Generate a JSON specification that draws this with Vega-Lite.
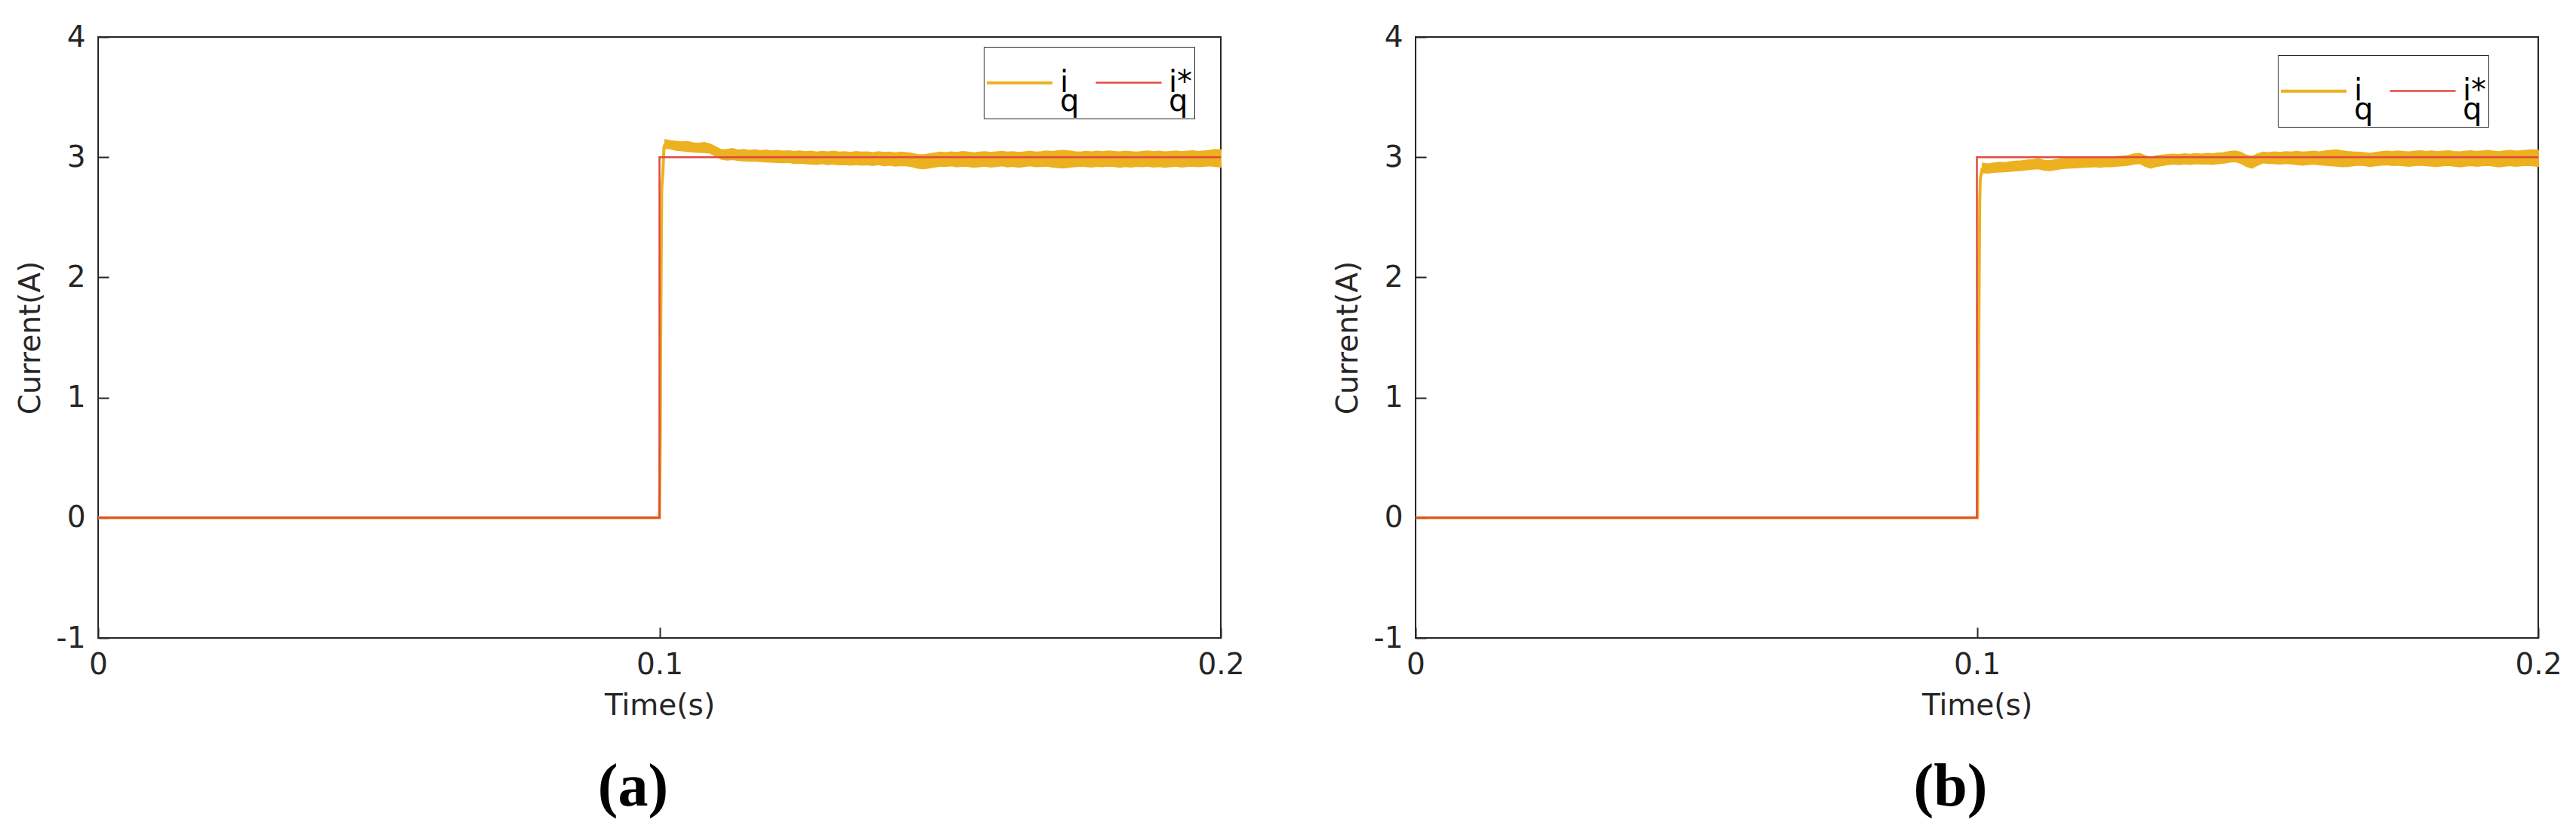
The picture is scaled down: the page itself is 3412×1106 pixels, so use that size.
{
  "$schema": "https://vega.github.io/schema/vega-lite/v6.json",
  "background": "white",
  "padding": {"left": 20, "top": 29, "right": 0, "bottom": 0},
  "spacing": 115,
  "config": {
    "view": {"stroke": "#262626", "strokeWidth": 2},
    "font": "DejaVu Sans",
    "axis": {
      "domain": false, "grid": false,
      "tickSize": -14, "tickWidth": 2, "tickColor": "#262626",
      "labelFont": "DejaVu Sans", "labelFontSize": 39, "labelColor": "#262626",
      "titleFont": "DejaVu Sans", "titleFontSize": 39, "titleFontWeight": "normal", "titleColor": "#262626",
      "labelOverlap": false
    },
    "axisX": {"labelPadding": 30, "titlePadding": 15, "labelFlush": false},
    "axisY": {"labelPadding": 31, "titlePadding": 14},
    "style": {"guide-label": {"lineHeight": 25}},
    "legend": {
      "orient": "none", "direction": "horizontal", "title": null,
      "symbolType": "stroke", "symbolSize": 7569, "symbolStrokeWidth": 3,
      "labelFont": "DejaVu Sans", "labelFontSize": 40, "labelColor": "black",
      "labelOffset": 8, "columnPadding": 16, "padding": 2,
      "strokeColor": "#262626", "fillColor": "white"
    },
    "title": {"orient": "bottom", "anchor": "middle", "frame": "group", "font": "Liberation Serif", "fontWeight": "bold", "fontSize": 80, "color": "black", "offset": 50}
  },
  "resolve": {"scale": {"color": "independent", "strokeWidth": "independent"}, "legend": {"color": "independent"}},
  "datasets": {
    "lines_a": [
      {"series": "iq", "t": 0, "v": 0}, {"series": "iq", "t": 0.1, "v": 0}, {"series": "iq", "t": 0.10015, "v": 0.68},
      {"series": "iq", "t": 0.1002, "v": 1.41}, {"series": "iq", "t": 0.1003, "v": 2.08}, {"series": "iq", "t": 0.1004, "v": 2.74},
      {"series": "iq", "t": 0.1006, "v": 2.87}, {"series": "iq", "t": 0.1008, "v": 3.08}, {"series": "iq", "t": 0.101, "v": 3.11},
      {"series": "iq*", "t": 0, "v": 0}, {"series": "iq*", "t": 0.1, "v": 0}, {"series": "iq*", "t": 0.1, "v": 3}, {"series": "iq*", "t": 0.2, "v": 3}
    ],
    "lines_b": [
      {"series": "iq", "t": 0, "v": 0}, {"series": "iq", "t": 0.1001, "v": 0}, {"series": "iq", "t": 0.1002, "v": 0.68},
      {"series": "iq", "t": 0.1003, "v": 1.34}, {"series": "iq", "t": 0.1004, "v": 1.99}, {"series": "iq", "t": 0.1005, "v": 2.63},
      {"series": "iq", "t": 0.1006, "v": 2.82}, {"series": "iq", "t": 0.1009, "v": 2.9}, {"series": "iq", "t": 0.101, "v": 2.91},
      {"series": "iq*", "t": 0, "v": 0}, {"series": "iq*", "t": 0.1, "v": 0}, {"series": "iq*", "t": 0.1, "v": 3}, {"series": "iq*", "t": 0.2, "v": 3}
    ],
    "band_a": [
      {"t": 0.101, "hi": 3.145, "lo": 3.075}, {"t": 0.102, "hi": 3.135, "lo": 3.07}, {"t": 0.103, "hi": 3.13, "lo": 3.06},
      {"t": 0.104, "hi": 3.125, "lo": 3.055}, {"t": 0.105, "hi": 3.128, "lo": 3.05}, {"t": 0.106, "hi": 3.118, "lo": 3.045},
      {"t": 0.107, "hi": 3.115, "lo": 3.042}, {"t": 0.108, "hi": 3.12, "lo": 3.04}, {"t": 0.109, "hi": 3.108, "lo": 3.035},
      {"t": 0.11, "hi": 3.085, "lo": 3.01}, {"t": 0.111, "hi": 3.06, "lo": 2.985}, {"t": 0.112, "hi": 3.062, "lo": 2.978},
      {"t": 0.113, "hi": 3.07, "lo": 2.982}, {"t": 0.114, "hi": 3.058, "lo": 2.975}, {"t": 0.115, "hi": 3.062, "lo": 2.972},
      {"t": 0.116, "hi": 3.055, "lo": 2.968}, {"t": 0.117, "hi": 3.06, "lo": 2.97}, {"t": 0.118, "hi": 3.052, "lo": 2.965},
      {"t": 0.119, "hi": 3.058, "lo": 2.962}, {"t": 0.12, "hi": 3.05, "lo": 2.96}, {"t": 0.121, "hi": 3.055, "lo": 2.958},
      {"t": 0.122, "hi": 3.048, "lo": 2.955}, {"t": 0.123, "hi": 3.052, "lo": 2.958}, {"t": 0.124, "hi": 3.045, "lo": 2.95},
      {"t": 0.125, "hi": 3.05, "lo": 2.952}, {"t": 0.126, "hi": 3.044, "lo": 2.948}, {"t": 0.127, "hi": 3.048, "lo": 2.945},
      {"t": 0.128, "hi": 3.04, "lo": 2.942}, {"t": 0.129, "hi": 3.046, "lo": 2.948}, {"t": 0.13, "hi": 3.042, "lo": 2.94},
      {"t": 0.131, "hi": 3.048, "lo": 2.945}, {"t": 0.132, "hi": 3.04, "lo": 2.938}, {"t": 0.133, "hi": 3.044, "lo": 2.942},
      {"t": 0.134, "hi": 3.038, "lo": 2.935}, {"t": 0.135, "hi": 3.045, "lo": 2.94}, {"t": 0.136, "hi": 3.04, "lo": 2.936},
      {"t": 0.137, "hi": 3.042, "lo": 2.938}, {"t": 0.138, "hi": 3.036, "lo": 2.932}, {"t": 0.139, "hi": 3.044, "lo": 2.94},
      {"t": 0.14, "hi": 3.038, "lo": 2.93}, {"t": 0.141, "hi": 3.04, "lo": 2.935}, {"t": 0.142, "hi": 3.034, "lo": 2.928},
      {"t": 0.143, "hi": 3.04, "lo": 2.932}, {"t": 0.144, "hi": 3.036, "lo": 2.93}, {"t": 0.145, "hi": 3.03, "lo": 2.922},
      {"t": 0.146, "hi": 3.02, "lo": 2.91}, {"t": 0.147, "hi": 3.018, "lo": 2.905}, {"t": 0.148, "hi": 3.025, "lo": 2.912},
      {"t": 0.149, "hi": 3.032, "lo": 2.92}, {"t": 0.15, "hi": 3.04, "lo": 2.928}, {"t": 0.151, "hi": 3.036, "lo": 2.925},
      {"t": 0.152, "hi": 3.042, "lo": 2.93}, {"t": 0.153, "hi": 3.038, "lo": 2.922}, {"t": 0.154, "hi": 3.045, "lo": 2.928},
      {"t": 0.155, "hi": 3.04, "lo": 2.925}, {"t": 0.156, "hi": 3.034, "lo": 2.918}, {"t": 0.157, "hi": 3.04, "lo": 2.922},
      {"t": 0.158, "hi": 3.044, "lo": 2.928}, {"t": 0.159, "hi": 3.038, "lo": 2.92}, {"t": 0.16, "hi": 3.042, "lo": 2.925},
      {"t": 0.161, "hi": 3.046, "lo": 2.93}, {"t": 0.162, "hi": 3.04, "lo": 2.922}, {"t": 0.163, "hi": 3.044, "lo": 2.926},
      {"t": 0.164, "hi": 3.038, "lo": 2.918}, {"t": 0.165, "hi": 3.042, "lo": 2.924}, {"t": 0.166, "hi": 3.048, "lo": 2.93},
      {"t": 0.167, "hi": 3.04, "lo": 2.922}, {"t": 0.168, "hi": 3.044, "lo": 2.925}, {"t": 0.169, "hi": 3.05, "lo": 2.928},
      {"t": 0.17, "hi": 3.046, "lo": 2.92}, {"t": 0.171, "hi": 3.052, "lo": 2.915}, {"t": 0.172, "hi": 3.055, "lo": 2.912},
      {"t": 0.173, "hi": 3.05, "lo": 2.918}, {"t": 0.174, "hi": 3.044, "lo": 2.922}, {"t": 0.175, "hi": 3.04, "lo": 2.928},
      {"t": 0.176, "hi": 3.046, "lo": 2.924}, {"t": 0.177, "hi": 3.042, "lo": 2.92}, {"t": 0.178, "hi": 3.048, "lo": 2.926},
      {"t": 0.179, "hi": 3.044, "lo": 2.922}, {"t": 0.18, "hi": 3.05, "lo": 2.928}, {"t": 0.181, "hi": 3.046, "lo": 2.924},
      {"t": 0.182, "hi": 3.042, "lo": 2.918}, {"t": 0.183, "hi": 3.048, "lo": 2.925}, {"t": 0.184, "hi": 3.044, "lo": 2.92},
      {"t": 0.185, "hi": 3.04, "lo": 2.926}, {"t": 0.186, "hi": 3.046, "lo": 2.922}, {"t": 0.187, "hi": 3.05, "lo": 2.928},
      {"t": 0.188, "hi": 3.044, "lo": 2.92}, {"t": 0.189, "hi": 3.048, "lo": 2.924}, {"t": 0.19, "hi": 3.042, "lo": 2.918},
      {"t": 0.191, "hi": 3.046, "lo": 2.922}, {"t": 0.192, "hi": 3.05, "lo": 2.928}, {"t": 0.193, "hi": 3.044, "lo": 2.92},
      {"t": 0.194, "hi": 3.048, "lo": 2.925}, {"t": 0.195, "hi": 3.052, "lo": 2.928}, {"t": 0.196, "hi": 3.046, "lo": 2.922},
      {"t": 0.197, "hi": 3.05, "lo": 2.926}, {"t": 0.198, "hi": 3.055, "lo": 2.93}, {"t": 0.199, "hi": 3.062, "lo": 2.925},
      {"t": 0.2, "hi": 3.058, "lo": 2.92}
    ],
    "band_b": [
      {"t": 0.101, "hi": 2.948, "lo": 2.872}, {"t": 0.102, "hi": 2.942, "lo": 2.87}, {"t": 0.103, "hi": 2.95, "lo": 2.875},
      {"t": 0.104, "hi": 2.955, "lo": 2.878}, {"t": 0.105, "hi": 2.952, "lo": 2.88}, {"t": 0.106, "hi": 2.96, "lo": 2.885},
      {"t": 0.107, "hi": 2.965, "lo": 2.888}, {"t": 0.108, "hi": 2.968, "lo": 2.892}, {"t": 0.109, "hi": 2.975, "lo": 2.898},
      {"t": 0.11, "hi": 2.978, "lo": 2.902}, {"t": 0.111, "hi": 2.985, "lo": 2.905}, {"t": 0.112, "hi": 2.972, "lo": 2.895},
      {"t": 0.113, "hi": 2.968, "lo": 2.89}, {"t": 0.114, "hi": 2.978, "lo": 2.898}, {"t": 0.115, "hi": 2.985, "lo": 2.905},
      {"t": 0.116, "hi": 2.988, "lo": 2.91}, {"t": 0.117, "hi": 2.992, "lo": 2.912}, {"t": 0.118, "hi": 2.99, "lo": 2.915},
      {"t": 0.119, "hi": 2.995, "lo": 2.918}, {"t": 0.12, "hi": 2.998, "lo": 2.92}, {"t": 0.121, "hi": 3.0, "lo": 2.922},
      {"t": 0.122, "hi": 2.996, "lo": 2.918}, {"t": 0.123, "hi": 3.002, "lo": 2.925}, {"t": 0.124, "hi": 3.0, "lo": 2.922},
      {"t": 0.125, "hi": 3.005, "lo": 2.928}, {"t": 0.126, "hi": 3.008, "lo": 2.93}, {"t": 0.127, "hi": 3.012, "lo": 2.935},
      {"t": 0.128, "hi": 3.025, "lo": 2.945}, {"t": 0.129, "hi": 3.03, "lo": 2.95}, {"t": 0.13, "hi": 3.01, "lo": 2.925},
      {"t": 0.131, "hi": 2.998, "lo": 2.91}, {"t": 0.132, "hi": 3.01, "lo": 2.925}, {"t": 0.133, "hi": 3.015, "lo": 2.932},
      {"t": 0.134, "hi": 3.02, "lo": 2.94}, {"t": 0.135, "hi": 3.024, "lo": 2.945}, {"t": 0.136, "hi": 3.02, "lo": 2.94},
      {"t": 0.137, "hi": 3.026, "lo": 2.946}, {"t": 0.138, "hi": 3.022, "lo": 2.942}, {"t": 0.139, "hi": 3.028, "lo": 2.948},
      {"t": 0.14, "hi": 3.024, "lo": 2.944}, {"t": 0.141, "hi": 3.03, "lo": 2.946}, {"t": 0.142, "hi": 3.026, "lo": 2.942},
      {"t": 0.143, "hi": 3.032, "lo": 2.948}, {"t": 0.144, "hi": 3.036, "lo": 2.952}, {"t": 0.145, "hi": 3.045, "lo": 2.96},
      {"t": 0.146, "hi": 3.05, "lo": 2.965}, {"t": 0.147, "hi": 3.04, "lo": 2.95}, {"t": 0.148, "hi": 3.015, "lo": 2.925},
      {"t": 0.149, "hi": 3.005, "lo": 2.91}, {"t": 0.15, "hi": 3.025, "lo": 2.935}, {"t": 0.151, "hi": 3.04, "lo": 2.955},
      {"t": 0.152, "hi": 3.036, "lo": 2.95}, {"t": 0.153, "hi": 3.042, "lo": 2.948}, {"t": 0.154, "hi": 3.038, "lo": 2.944},
      {"t": 0.155, "hi": 3.044, "lo": 2.95}, {"t": 0.156, "hi": 3.04, "lo": 2.946}, {"t": 0.157, "hi": 3.046, "lo": 2.94},
      {"t": 0.158, "hi": 3.04, "lo": 2.935}, {"t": 0.159, "hi": 3.044, "lo": 2.94}, {"t": 0.16, "hi": 3.048, "lo": 2.944},
      {"t": 0.161, "hi": 3.042, "lo": 2.938}, {"t": 0.162, "hi": 3.05, "lo": 2.935}, {"t": 0.163, "hi": 3.055, "lo": 2.93},
      {"t": 0.164, "hi": 3.06, "lo": 2.928}, {"t": 0.165, "hi": 3.052, "lo": 2.922}, {"t": 0.166, "hi": 3.046, "lo": 2.925},
      {"t": 0.167, "hi": 3.042, "lo": 2.93}, {"t": 0.168, "hi": 3.04, "lo": 2.935}, {"t": 0.169, "hi": 3.036, "lo": 2.932},
      {"t": 0.17, "hi": 3.03, "lo": 2.925}, {"t": 0.171, "hi": 3.038, "lo": 2.93}, {"t": 0.172, "hi": 3.044, "lo": 2.935},
      {"t": 0.173, "hi": 3.048, "lo": 2.938}, {"t": 0.174, "hi": 3.044, "lo": 2.932}, {"t": 0.175, "hi": 3.05, "lo": 2.936},
      {"t": 0.176, "hi": 3.046, "lo": 2.93}, {"t": 0.177, "hi": 3.042, "lo": 2.926}, {"t": 0.178, "hi": 3.048, "lo": 2.932},
      {"t": 0.179, "hi": 3.052, "lo": 2.936}, {"t": 0.18, "hi": 3.046, "lo": 2.93}, {"t": 0.181, "hi": 3.05, "lo": 2.928},
      {"t": 0.182, "hi": 3.044, "lo": 2.924}, {"t": 0.183, "hi": 3.048, "lo": 2.93}, {"t": 0.184, "hi": 3.052, "lo": 2.934},
      {"t": 0.185, "hi": 3.046, "lo": 2.928}, {"t": 0.186, "hi": 3.042, "lo": 2.922}, {"t": 0.187, "hi": 3.048, "lo": 2.928},
      {"t": 0.188, "hi": 3.052, "lo": 2.932}, {"t": 0.189, "hi": 3.046, "lo": 2.926}, {"t": 0.19, "hi": 3.05, "lo": 2.93},
      {"t": 0.191, "hi": 3.054, "lo": 2.934}, {"t": 0.192, "hi": 3.048, "lo": 2.928}, {"t": 0.193, "hi": 3.044, "lo": 2.922},
      {"t": 0.194, "hi": 3.05, "lo": 2.928}, {"t": 0.195, "hi": 3.054, "lo": 2.932}, {"t": 0.196, "hi": 3.048, "lo": 2.926},
      {"t": 0.197, "hi": 3.052, "lo": 2.93}, {"t": 0.198, "hi": 3.056, "lo": 2.934}, {"t": 0.199, "hi": 3.06, "lo": 2.93},
      {"t": 0.2, "hi": 3.055, "lo": 2.925}
    ]
  },
  "hconcat": [
    {
      "width": 1487, "height": 796,
      "title": {"text": "(a)", "dx": -35},
      "layer": [
        {
          "data": {"name": "band_a"},
          "mark": {"type": "area", "color": "#EDB120", "stroke": "#EDB120", "strokeWidth": 2},
          "encoding": {
            "x": {"field": "t", "type": "quantitative", "scale": {"domain": [0, 0.2]}, "axis": {"values": [0, 0.1, 0.2], "labelExpr": "'' + datum.value", "title": "Time(s)"}},
            "y": {"field": "hi", "type": "quantitative", "scale": {"domain": [-1, 4]}, "axis": {"values": [-1, 0, 1, 2, 3, 4], "labelExpr": "'' + datum.value", "title": "Current(A)"}},
            "y2": {"field": "lo"}
          }
        },
        {
          "data": {"name": "lines_a"},
          "mark": {"type": "line"},
          "encoding": {
            "x": {"field": "t", "type": "quantitative"},
            "y": {"field": "v", "type": "quantitative"},
            "color": {"field": "series", "type": "nominal", "scale": {"domain": ["iq", "iq*"], "range": ["#EDB120", "#E04A3F"]}, "legend": {"legendX": 1173, "legendY": 13, "labelExpr": "datum.label == 'iq' ? ['i', '\u00a0q'] : ['i*', '\u00a0q']"}},
            "strokeWidth": {"field": "series", "type": "nominal", "scale": {"domain": ["iq", "iq*"], "range": [4, 2.5]}, "legend": null},
            "order": {"value": null}
          }
        }
      ]
    },
    {
      "width": 1487, "height": 796,
      "title": {"text": "(b)", "dx": -35},
      "layer": [
        {
          "data": {"name": "band_b"},
          "mark": {"type": "area", "color": "#EDB120", "stroke": "#EDB120", "strokeWidth": 2},
          "encoding": {
            "x": {"field": "t", "type": "quantitative", "scale": {"domain": [0, 0.2]}, "axis": {"values": [0, 0.1, 0.2], "labelExpr": "'' + datum.value", "title": "Time(s)"}},
            "y": {"field": "hi", "type": "quantitative", "scale": {"domain": [-1, 4]}, "axis": {"values": [-1, 0, 1, 2, 3, 4], "labelExpr": "'' + datum.value", "title": "Current(A)"}},
            "y2": {"field": "lo"}
          }
        },
        {
          "data": {"name": "lines_b"},
          "mark": {"type": "line"},
          "encoding": {
            "x": {"field": "t", "type": "quantitative"},
            "y": {"field": "v", "type": "quantitative"},
            "color": {"field": "series", "type": "nominal", "scale": {"domain": ["iq", "iq*"], "range": ["#EDB120", "#E04A3F"]}, "legend": {"legendX": 1142, "legendY": 24, "labelExpr": "datum.label == 'iq' ? ['i', '\u00a0q'] : ['i*', '\u00a0q']"}},
            "strokeWidth": {"field": "series", "type": "nominal", "scale": {"domain": ["iq", "iq*"], "range": [4, 2.5]}, "legend": null},
            "order": {"value": null}
          }
        }
      ]
    }
  ]
}
